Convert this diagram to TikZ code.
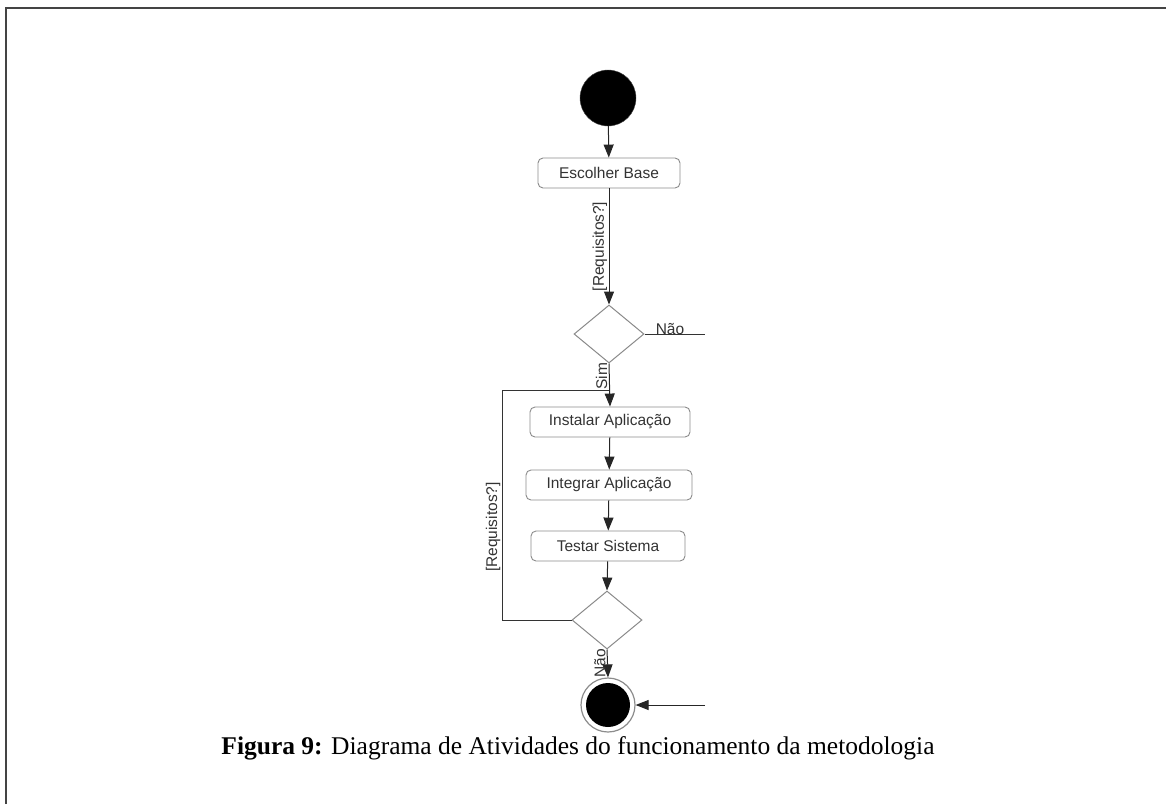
\documentclass[tikz,border=0pt]{standalone}
\usepackage{fontspec}
\setmainfont{Liberation Serif}
\newfontfamily\diagfont{Liberation Sans}
\usetikzlibrary{shapes.geometric,arrows.meta}

\definecolor{boxline}{HTML}{8A8A8A}
\definecolor{txtgray}{HTML}{333333}
\definecolor{framegray}{HTML}{444444}

\tikzset{
  activity/.style={draw=boxline, line width=0.9pt, rounded corners=5pt,
    minimum height=30pt, inner sep=0pt, text=txtgray,
    font=\diagfont\fontsize{15.5}{18}\selectfont},
  decision/.style={draw=boxline, line width=1pt, diamond, inner sep=0pt,
    minimum width=70pt, minimum height=58pt},
  flow/.style={draw=black!85, line width=1pt,
    -{Triangle[length=13pt,width=10pt]}},
  plainline/.style={draw=black!80, line width=1pt},
  guard/.style={text=txtgray, font=\diagfont\fontsize{15.5}{18}\selectfont,
    inner sep=1.5pt},
}

\begin{document}
\begin{tikzpicture}[x=1pt,y=-1pt]
  \useasboundingbox (0,0) rectangle (1166,804);

  % outer frame (top and left edges)
  \draw[framegray, line width=2pt] (6,804) -- (6,8) -- (1166,8);

  % initial state
  \node[circle, fill=black, draw=black!70, minimum size=56pt, inner sep=0pt] (start) at (608,98) {};

  % activities
  \node[activity, minimum width=142pt] (esc)   at (609,173) {Escolher Base};
  \node[decision] (d1) at (609,334) {};
  \node[activity, minimum width=160pt] (inst)  at (610,422) {Instalar Aplica\c{c}\~ao};
  \node[activity, minimum width=166pt] (integ) at (609,485) {Integrar Aplica\c{c}\~ao};
  \node[activity, minimum width=154pt] (test)  at (608,546) {Testar Sistema};
  \node[decision] (d2) at (607,620) {};

  % final state
  \node[circle, draw=black!45, line width=1.2pt, minimum size=54pt, inner sep=0pt] (end) at (608,705) {};
  \node[circle, fill=black, minimum size=44pt, inner sep=0pt] (endcore) at (end.center) {};

  % free ends and bends
  \coordinate (naoEnd)  at (705,334);
  \coordinate (inEnd)   at (705,705);
  \coordinate (loopB)   at (502,620);
  \coordinate (loopT)   at (502,390);
  \coordinate (join)    at (609,390);

  % connectors
  \draw[flow] (start) -- (esc);
  \draw[flow] (esc.south) -- node[guard, rotate=90, anchor=south] {[Requisitos?]} (d1.north);
  \draw[plainline] (d1.east) -- (naoEnd);
  \node[guard, anchor=south] (naoLbl) at (670,336) {N\~ao};
  \draw[flow] (d1.south) -- node[guard, rotate=90, anchor=south, pos=0.3] {Sim} (inst.north);
  \draw[plainline] (d2.west) -- (loopB) -- (loopT) -- (join);
  \node[guard, rotate=90, anchor=south] (reqLbl) at (502,527) {[Requisitos?]};
  \draw[flow] (inst) -- (integ);
  \draw[flow] (integ) -- (test);
  \draw[flow] (test) -- (d2.north);
  \draw[flow] (d2.south) -- node[guard, rotate=90, anchor=south, pos=0.5] {N\~ao} (end.north);
  \draw[flow] (inEnd) -- (end.east);

  % caption
  \node[font=\fontsize{25.5}{30}\selectfont] (caption) at (578,748)
    {\textbf{Figura 9:} Diagrama de Atividades do funcionamento da metodologia};
\end{tikzpicture}
\end{document}
